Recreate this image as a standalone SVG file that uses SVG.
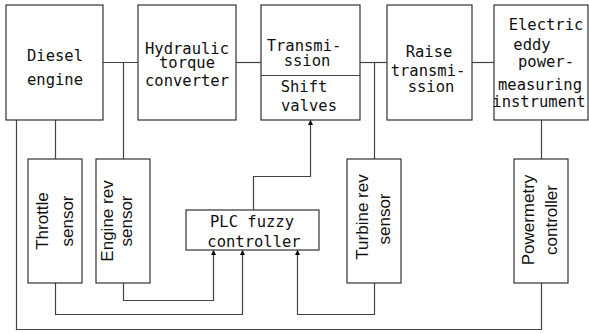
<svg xmlns="http://www.w3.org/2000/svg" width="589" height="333" viewBox="0 0 589 333">
<style>
.box{fill:#fff;stroke:#333;stroke-width:1.2}
.ln{fill:none;stroke:#444;stroke-width:1.2}
.mono{font-family:"DejaVu Sans Mono","Liberation Mono",monospace;font-size:15.5px;fill:#111;text-anchor:middle}
.sans{font-family:"Liberation Sans",Arial,sans-serif;font-size:17px;fill:#111;text-anchor:middle}
</style>
<defs>
<marker id="arr" viewBox="0 0 10 10" refX="10" refY="5" markerWidth="11" markerHeight="5" markerUnits="userSpaceOnUse" orient="auto">
<path d="M0,0 L10,5 L0,10 Z" fill="#000"/>
</marker>
</defs>
<rect width="589" height="333" fill="#fff"/>
<g id="connectors">
<path class="ln" d="M103,62.5 H138"/>
<path class="ln" d="M123.5,62.5 V159"/>
<path class="ln" d="M236,62.5 H261"/>
<path class="ln" d="M360,62.5 H387"/>
<path class="ln" d="M374.5,62.5 V159"/>
<path class="ln" d="M472,62.5 H494"/>
<path class="ln" d="M55.5,120 V159"/>
<path class="ln" d="M541.5,120 V159"/>
<path class="ln" d="M16.5,120 V329.5 H541.5 V283"/>
<path class="ln" d="M123.5,283 V300.5 H213.5 V250" marker-end="url(#arr)"/>
<path class="ln" d="M55.5,283 V314.5 H242.5 V250" marker-end="url(#arr)"/>
<path class="ln" d="M374.5,283 V314.5 H297.5 V250" marker-end="url(#arr)"/>
<path class="ln" d="M253.5,210 V176.5 H310.5 V120" marker-end="url(#arr)"/>
</g>
<g id="diesel">
<rect class="box" x="6" y="5" width="97" height="115"/>
<text class="mono" x="55" y="61">Diesel</text>
<text class="mono" x="55" y="85">engine</text>
</g>
<g id="hydraulic">
<rect class="box" x="138" y="5" width="98" height="115"/>
<text class="mono" x="187" y="54">Hydraulic</text>
<text class="mono" x="187" y="68">torque</text>
<text class="mono" x="187" y="86">converter</text>
</g>
<g id="transmission">
<rect class="box" x="261" y="5" width="99" height="115"/>
<line class="ln" x1="261" y1="75.5" x2="360" y2="75.5"/>
<text class="mono" x="304" y="51">Transmi-</text>
<text class="mono" x="307" y="66">ssion</text>
<text class="mono" x="304" y="92">Shift</text>
<text class="mono" x="309" y="111">valves</text>
</g>
<g id="raise">
<rect class="box" x="387" y="5" width="85" height="115"/>
<text class="mono" x="429" y="57">Raise</text>
<text class="mono" x="428" y="76">transmi-</text>
<text class="mono" x="431" y="92">ssion</text>
</g>
<g id="electric">
<rect class="box" x="494" y="5" width="94" height="115"/>
<text class="mono" x="546" y="30">Electric</text>
<text class="mono" x="532" y="50">eddy</text>
<text class="mono" x="546" y="67">power-</text>
<text class="mono" x="540" y="90">measuring</text>
<text class="mono" x="539" y="107">instrument</text>
</g>
<g id="throttle">
<rect class="box" x="28" y="159" width="54" height="124"/>
<text class="sans" transform="translate(48,221) rotate(-90)">Throttle</text>
<text class="sans" transform="translate(73,221) rotate(-90)">sensor</text>
</g>
<g id="enginerev">
<rect class="box" x="96" y="159" width="54" height="124"/>
<text class="sans" transform="translate(113,221) rotate(-90)">Engine rev</text>
<text class="sans" transform="translate(132,221) rotate(-90)">sensor</text>
</g>
<g id="plc">
<rect class="box" x="186" y="210" width="133" height="40"/>
<text class="mono" x="252" y="227">PLC fuzzy</text>
<text class="mono" x="254" y="247">controller</text>
</g>
<g id="turbinerev">
<rect class="box" x="347" y="159" width="54" height="124"/>
<text class="sans" transform="translate(368,217) rotate(-90)">Turbine rev</text>
<text class="sans" transform="translate(390,219) rotate(-90)">sensor</text>
</g>
<g id="powermetry">
<rect class="box" x="514" y="159" width="54" height="124"/>
<text class="sans" transform="translate(534,220) rotate(-90)">Powermetry</text>
<text class="sans" transform="translate(557,220) rotate(-90)">controller</text>
</g>
</svg>
